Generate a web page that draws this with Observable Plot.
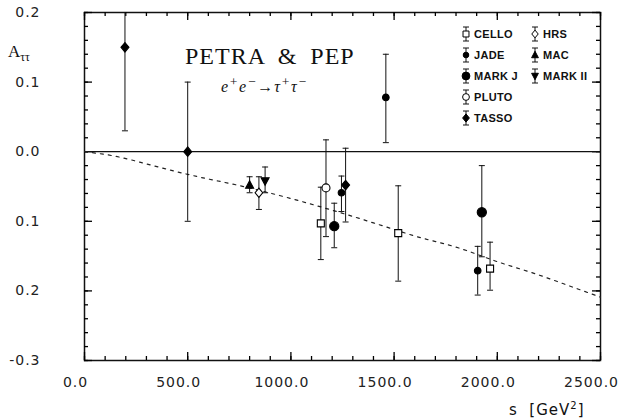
<!DOCTYPE html>
<html><head><meta charset="utf-8">
<script src="https://cdn.jsdelivr.net/npm/d3@7"></script>
<script src="https://cdn.jsdelivr.net/npm/@observablehq/plot@0.6"></script>
<style>
html,body{margin:0;padding:0;background:#fff;}
#wrap{position:relative;width:618px;height:418px;overflow:hidden;color:#111;}
.ov{position:absolute;white-space:nowrap;line-height:1;}
#wrap svg text{letter-spacing:1px;}
</style></head><body>
<div id="wrap"></div>
<script>
// ---- data ----
const experiment = ["TASSO","TASSO","TASSO","JADE","JADE","JADE","MARK J","MARK J","CELLO","CELLO","CELLO","PLUTO","HRS","MAC","MARK II"];
const sValue   = [196, 500, 1265, 1460, 1245, 1905, 1210, 1925, 1145, 1520, 1965, 1170, 845, 800, 875];
const aValue   = [0.150, 0.000, -0.048, 0.078, -0.059, -0.171, -0.107, -0.087, -0.103, -0.117, -0.168, -0.052, -0.059, -0.048, -0.042];
const aLow     = [0.030, -0.100, -0.101, 0.013, -0.086, -0.206, -0.138, -0.151, -0.155, -0.186, -0.199, -0.122, -0.083, -0.059, -0.059];
const aHigh    = [0.270, 0.100, 0.005, 0.140, -0.035, -0.136, -0.074, -0.020, -0.051, -0.049, -0.130, 0.017, -0.036, -0.036, -0.022];

// dotted prediction curve
const curveS = [0, 140, 320, 450, 550, 740, 1300, 1450, 1610, 1810, 2000, 2200, 2360, 2500];
const curveA = [0, -0.006, -0.019, -0.029, -0.036, -0.048, -0.093, -0.107, -0.122, -0.138, -0.158, -0.177, -0.194, -0.209];

const xTicks = [0, 500, 1000, 1500, 2000, 2500];
const xTickLabels = ["0.0", "500.0", "1000.0", "1500.0", "2000.0", "2500.0"];
const yTicks = [0.2, 0.1, 0.0, -0.1, -0.2, -0.3];
const yTickLabels = ["0.2", "0.1", "0.0", "0.1", "0.2", "-0.3"];

const legendCol1 = ["CELLO", "JADE", "MARK J", "PLUTO", "TASSO"];
const legendCol2 = ["HRS", "MAC", "MARK II"];

// ---- symbols ----
const rad = size => Math.sqrt(size / Math.PI);
const SYM = {
  square: {draw(c, s){ const r = rad(s); c.moveTo(-r,-r); c.lineTo(r,-r); c.lineTo(r,r); c.lineTo(-r,r); c.closePath(); }},
  circle: {draw(c, s){ const r = rad(s); c.moveTo(r,0); c.arc(0,0,r,0,2*Math.PI); c.closePath(); }},
  diamond: {draw(c, s){ const r = rad(s); c.moveTo(0,-r*1.2); c.lineTo(r,0); c.lineTo(0,r*1.2); c.lineTo(-r,0); c.closePath(); }},
  triUp: {draw(c, s){ const r = rad(s); c.moveTo(0,-r*1.1); c.lineTo(r,r*0.8); c.lineTo(-r,r*0.8); c.closePath(); }},
  triDown: {draw(c, s){ const r = rad(s); c.moveTo(0,r*1.1); c.lineTo(r,-r*0.8); c.lineTo(-r,-r*0.8); c.closePath(); }},
  cap: {draw(c, s){ const r = rad(s); c.moveTo(-r,0); c.lineTo(r,0); }}
};
const STYLE = {
  "CELLO":   {symbol: SYM.square,  r: 3.5, fill: "white"},
  "JADE":    {symbol: SYM.circle,  r: 3.3, fill: "black"},
  "MARK J":  {symbol: SYM.circle,  r: 4.6, fill: "black"},
  "PLUTO":   {symbol: SYM.circle,  r: 4.0, fill: "white"},
  "TASSO":   {symbol: SYM.diamond, r: 4.0, fill: "black"},
  "HRS":     {symbol: SYM.diamond, r: 3.8, fill: "white"},
  "MAC":     {symbol: SYM.triUp,   r: 4.0, fill: "black"},
  "MARK II": {symbol: SYM.triDown, r: 4.0, fill: "black"}
};

const W = 618, H = 418, ML = 84, MR = 18, MT = 12, MB = 58;
const xDomain = [0, 2500], yDomain = [-0.3, 0.2];
const pxX = (xDomain[1] - xDomain[0]) / (W - ML - MR);   // data units per pixel
const pxY = (yDomain[1] - yDomain[0]) / (H - MT - MB);

const points = experiment.map((e, i) => ({e, s: sValue[i], a: aValue[i], lo: aLow[i], hi: aHigh[i]}));
const curve = curveS.map((s, i) => ({s, a: curveA[i]}));
const xMinor = d3.range(0, 2501, 100);
const yMinor = d3.range(-30, 21, 2).map(v => v / 100);
const fmtX = d => xTickLabels[xTicks.findIndex(v => Math.abs(v - d) < 1e-6)];
const fmtY = d => yTickLabels[yTicks.findIndex(v => Math.abs(v - d) < 1e-6)];

// inward ticks on all four sides of the frame
const tickMarks = [];
for (const [ticks, len] of [[xTicks, 8], [xMinor, 4]]) {
  tickMarks.push(Plot.ruleX(ticks, {x: d => d, y1: yDomain[0], y2: yDomain[0] + len * pxY, stroke: "#000", strokeWidth: 1.3}));
  tickMarks.push(Plot.ruleX(ticks, {x: d => d, y1: yDomain[1], y2: yDomain[1] - len * pxY, stroke: "#000", strokeWidth: 1.3}));
}
for (const [ticks, len] of [[yTicks, 8], [yMinor, 4]]) {
  tickMarks.push(Plot.ruleY(ticks, {y: d => d, x1: xDomain[0], x2: xDomain[0] + len * pxX, stroke: "#000", strokeWidth: 1.3}));
  tickMarks.push(Plot.ruleY(ticks, {y: d => d, x1: xDomain[1], x2: xDomain[1] - len * pxX, stroke: "#000", strokeWidth: 1.3}));
}

const markMarks = Object.keys(STYLE).map(k => Plot.dot(points.filter(p => p.e === k), {
  x: "s", y: "a", symbol: STYLE[k].symbol, r: STYLE[k].r, fill: STYLE[k].fill, stroke: "black", strokeWidth: 1.1
}));

const chart = Plot.plot({
  width: W, height: H,
  marginLeft: ML, marginRight: MR, marginTop: MT, marginBottom: MB,
  x: {type: "linear", domain: xDomain},
  y: {type: "linear", domain: yDomain},
  style: {fontFamily: "DejaVu Sans, sans-serif", fontSize: "14px", color: "#111", background: "white"},
  marks: [
    Plot.frame({stroke: "#111", strokeWidth: 1.5}),
    ...tickMarks,
    Plot.ruleY([0], {stroke: "#111", strokeWidth: 1.2}),
    Plot.line(curve, {x: "s", y: "a", curve: "monotone-x", stroke: "#222", strokeWidth: 1.2, strokeDasharray: "3,5"}),
    Plot.ruleX(points, {x: "s", y1: "lo", y2: "hi", stroke: "#111", strokeWidth: 1, clip: true}),
    Plot.dot(points, {x: "s", y: "lo", symbol: SYM.cap, r: 3, stroke: "#111", strokeWidth: 1, fill: "none", clip: true}),
    Plot.dot(points, {x: "s", y: "hi", symbol: SYM.cap, r: 3, stroke: "#111", strokeWidth: 1, fill: "none", clip: true}),
    ...markMarks,
    Plot.axisX(xTicks, {anchor: "bottom", tickSize: 0, tickPadding: 17, dx: -9, tickFormat: fmtX, fontSize: 14, fill: "#222", label: null}),
    Plot.axisY(yTicks, {anchor: "left", tickSize: 0, tickPadding: 44, tickFormat: fmtY, fontSize: 14, fill: "#222", label: null})
  ]
});

const wrap = document.getElementById("wrap");
wrap.appendChild(chart);

function addText(html, css) {
  const d = document.createElement("div");
  d.className = "ov";
  d.innerHTML = html;
  Object.assign(d.style, css);
  wrap.appendChild(d);
}
addText("PETRA &amp; PEP", {left: "185px", top: "44px", fontFamily: "'Liberation Serif', serif", fontSize: "24px", letterSpacing: "1px", wordSpacing: "6px"});
addText("e<sup>+</sup>e<sup>&minus;</sup>&rarr;&tau;<sup>+</sup>&tau;<sup>&minus;</sup>", {left: "221px", top: "75px", fontFamily: "'Liberation Serif', serif", fontStyle: "italic", fontSize: "16px", letterSpacing: "1px"});
addText("A<sub style='font-size:12px'>&tau;&tau;</sub>", {left: "8px", top: "43px", fontFamily: "'Liberation Serif', serif", fontSize: "17px"});
addText("s&nbsp;&nbsp;[GeV<sup style='font-size:10px'>2</sup>]", {left: "509px", top: "401px", fontFamily: "'DejaVu Sans', sans-serif", fontSize: "15px", letterSpacing: "1px"});

// legend overlay drawn with d3
const svg = d3.select(wrap).append("svg")
  .attr("width", W).attr("height", H)
  .style("position", "absolute").style("left", 0).style("top", 0).style("pointer-events", "none");
function legendEntry(name, sx, y) {
  const st = STYLE[name];
  const g = svg.append("g").attr("transform", `translate(${sx},${y})`);
  g.append("line").attr("x1", 0).attr("x2", 0).attr("y1", -7).attr("y2", 7).attr("stroke", "#111");
  g.append("line").attr("x1", -3).attr("x2", 3).attr("y1", -7).attr("y2", -7).attr("stroke", "#111");
  g.append("line").attr("x1", -3).attr("x2", 3).attr("y1", 7).attr("y2", 7).attr("stroke", "#111");
  const r = st.r * 0.85;
  g.append("path").attr("d", d3.symbol(st.symbol, r * r * Math.PI)()).attr("fill", st.fill).attr("stroke", "black").attr("stroke-width", 1);
  svg.append("text").attr("x", sx + 8).attr("y", y + 4)
    .attr("font-family", "'Liberation Sans', Arial, sans-serif").attr("font-weight", "bold").attr("font-size", 11)
    .style("letter-spacing", "0.3px").attr("fill", "#111").text(name);
}
legendCol1.forEach((n, i) => legendEntry(n, 466, 34 + i * 21));
legendCol2.forEach((n, i) => legendEntry(n, 535, 34 + i * 21));
</script>
</body></html>
